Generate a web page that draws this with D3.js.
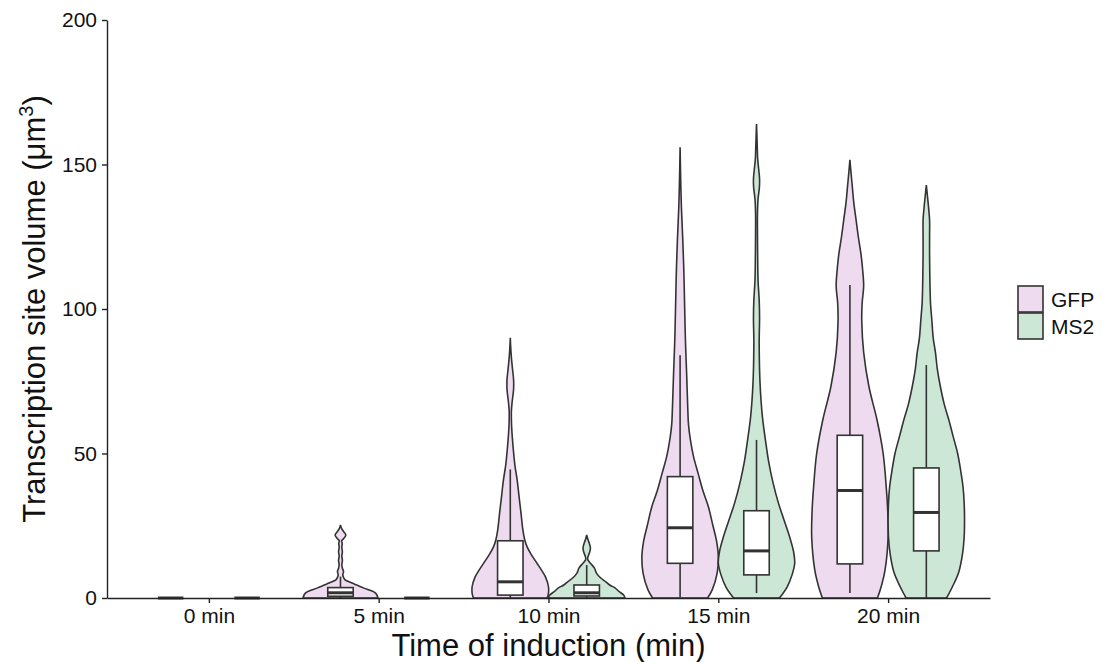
<!DOCTYPE html>
<html>
<head>
<meta charset="utf-8">
<script src="https://cdn.jsdelivr.net/npm/d3@7"></script>
<style>
  body { margin: 0; background: #fff; }
  text { font-family: "Liberation Sans", Arial, sans-serif; }
</style>
</head>
<body>
<div id="chart"></div>
<script>
const W = 1108, H = 662;

const groups = ["0 min", "5 min", "10 min", "15 min", "20 min"];
const series = ["GFP", "MS2"];
const fills = ["#eedbf0", "#cde7d7"];
const yTicks = [0, 50, 100, 150, 200];

// violin outlines: [value, relative half-width]
const gfp5 = [[0,0.98],[1.7,0.92],[3.5,0.6],[5.2,0.3],[6.3,0.12],[6.9,0.087],[8,0.06],[9.1,0.08],[10.3,0.05],[11.5,0.035],[13,0.05],[14.5,0.035],[16,0.05],[17.5,0.035],[19,0.045],[19.8,0.03],[20.5,0.08],[21.8,0.14],[23,0.08],[24.3,0.02],[25.3,0]];
const gfp10 = [[0,0.96],[1,0.99],[3.8,1.0],[7.3,0.92],[10,0.8],[12,0.7],[15,0.55],[17.7,0.44],[20,0.38],[23.5,0.33],[29.4,0.28],[35,0.23],[40.8,0.18],[46,0.12],[52,0.075],[57,0.045],[61,0.03],[65,0.03],[68,0.05],[72,0.085],[75.4,0.087],[79,0.06],[83,0.03],[87,0.01],[90,0]];
const gfp15 = [[0,0.72],[2.8,0.84],[8.6,0.97],[14.3,1.0],[20,0.95],[25,0.86],[31.6,0.74],[37,0.6],[43.2,0.47],[49,0.35],[54.7,0.27],[60,0.22],[66,0.2],[78,0.17],[89,0.14],[100,0.12],[112,0.1],[124,0.07],[135,0.035],[145,0.015],[156,0]];
const gfp20 = [[0,0.72],[4,0.82],[9.7,0.92],[21,1.0],[30,0.99],[38.5,0.95],[50,0.87],[61.6,0.71],[73,0.5],[85,0.36],[96,0.31],[102,0.32],[108,0.36],[114,0.33],[119,0.29],[125,0.22],[131,0.16],[137,0.1],[142,0.065],[147,0.03],[151.6,0]];
const ms210 = [[0,1.0],[1,0.97],[2.2,0.85],[3.5,0.74],[4.5,0.6],[5.6,0.5],[7,0.36],[8.5,0.26],[10.4,0.2],[12,0.1],[13.2,0.03],[13.8,0.026],[14.5,0.04],[16,0.08],[17.3,0.097],[18.8,0.07],[20.3,0.03],[21.8,0]];
const ms215 = [[0,0.6],[3.8,0.8],[8,0.93],[12,1.0],[16,0.97],[21,0.87],[27,0.72],[33,0.57],[40,0.43],[47,0.32],[55,0.23],[62,0.16],[68,0.12],[75,0.09],[82,0.075],[89,0.07],[97,0.08],[103,0.07],[110,0.04],[118,0.03],[126,0.025],[133,0.025],[138,0.04],[142,0.075],[145,0.08],[148,0.06],[152,0.03],[156,0.02],[160,0.01],[164,0]];
const ms220 = [[0,0.53],[3.8,0.68],[9,0.85],[15.5,0.95],[21,0.99],[27,1.0],[33,0.99],[38.5,0.96],[44,0.9],[50,0.82],[56,0.7],[61.6,0.59],[67,0.47],[73,0.37],[79,0.29],[84.8,0.24],[90,0.18],[96,0.145],[102,0.11],[107.6,0.097],[113,0.09],[119,0.085],[125,0.085],[130.8,0.085],[135,0.06],[139,0.03],[142.9,0]];

// null = no violin (all zeros)
const violinsGFP = [null, gfp5, gfp10, gfp15, gfp20];
const violinsMS2 = [null, null, ms210, ms215, ms220];

// box stats: [lower whisker, q1, median, q3, upper whisker]
const boxGFP = [[0,0,0,0,0],[0,0.6,1.8,3.6,7.4],[0,1,5.6,19.8,44.5],[0.3,12,24.3,42,84],[1.7,11.8,37.2,56.3,108.3]];
const boxMS2 = [[0,0,0,0,0],[0,0,0,0,0],[0,0.7,1.8,4.5,11.4],[1.7,8,16.3,30.2,54.7],[0,16.3,29.6,45,80.6]];

const margin = {left: 107, right: 118, top: 20, bottom: 64};

let svg = d3.select("#chart").append("svg")
  .attr("width", W).attr("height", H)

let x = d3.scalePoint()
  .domain(groups)
  .range([margin.left, W - margin.right])
  .padding(0.6)

let y = d3.scaleLinear()
  .domain([0, 200])
  .range([H - margin.bottom, margin.top])

let step = x.step()
// dodge width 0.9, two series
let offset = d3.scaleOrdinal().domain(series).range([-0.225 * step, 0.225 * step])
let halfW = d3.scaleLinear().domain([0, 1]).range([0, 0.225 * step])
let boxHalf = 0.075 * step

function drawViolin(profile, cx, fill) {
  if (!profile) return;
  let area = d3.area()
    .y(d => y(d[0]))
    .x0(d => cx - halfW(d[1]))
    .x1(d => cx + halfW(d[1]))
    .curve(d3.curveCatmullRom.alpha(0.5))
  svg.append("path")
    .datum(profile)
    .attr("d", area)
    .attr("fill", fill)
    .attr("stroke", "#333")
    .attr("stroke-width", 1.6)
}

function drawBox(b, cx) {
  let g = svg.append("g").attr("stroke", "#333")
  g.append("line")
    .attr("x1", cx).attr("x2", cx)
    .attr("y1", y(b[0])).attr("y2", y(b[1]))
    .attr("stroke-width", 1.6)
  g.append("line")
    .attr("x1", cx).attr("x2", cx)
    .attr("y1", y(b[3])).attr("y2", y(b[4]))
    .attr("stroke-width", 1.6)
  g.append("rect")
    .attr("x", cx - boxHalf).attr("width", boxHalf * 2)
    .attr("y", y(b[3])).attr("height", y(b[1]) - y(b[3]))
    .attr("fill", "#fff")
    .attr("stroke-width", 1.6)
  g.append("line")
    .attr("x1", cx - boxHalf).attr("x2", cx + boxHalf)
    .attr("y1", y(b[2])).attr("y2", y(b[2]))
    .attr("stroke-width", 3)
}

groups.forEach(function(grp, i){
  drawViolin(violinsGFP[i], x(grp) + offset("GFP"), fills[0])
  drawViolin(violinsMS2[i], x(grp) + offset("MS2"), fills[1])
})
groups.forEach(function(grp, i){
  drawBox(boxGFP[i], x(grp) + offset("GFP"))
  drawBox(boxMS2[i], x(grp) + offset("MS2"))
})

// axes
let yAxis = svg.append("g")
  .attr("transform", "translate(" + margin.left + ",0)")
  .call(d3.axisLeft(y).tickValues(yTicks).tickSize(5).tickSizeOuter(0).tickPadding(5))
let xAxis = svg.append("g")
  .attr("transform", "translate(0," + (H - margin.bottom) + ")")
  .call(d3.axisBottom(x).tickSize(5).tickSizeOuter(0).tickPadding(5))

svg.selectAll(".domain, .tick line").attr("stroke", "#222").attr("stroke-width", 1.4)
svg.selectAll(".tick text")
  .attr("fill", "#111")
  .style("font-size", "21px")
  .style("font-family", "'Liberation Sans', Arial, sans-serif")

svg.append("text")
  .attr("x", (margin.left + W - margin.right) / 2)
  .attr("y", 656)
  .attr("text-anchor", "middle")
  .attr("fill", "#111")
  .style("font-size", "31px")
  .text("Time of induction (min)")

let yt = svg.append("text")
  .attr("transform", "translate(45," + ((margin.top + H - margin.bottom) / 2) + ") rotate(-90)")
  .attr("text-anchor", "middle")
  .attr("fill", "#111")
  .style("font-size", "31px")
yt.append("tspan").text("Transcription site volume (μm")
yt.append("tspan").attr("dy", -12).style("font-size", "20px").text("3")
yt.append("tspan").attr("dy", 12).text(")")

// legend
let legend = svg.append("g").attr("transform", "translate(1018,286)")
series.forEach(function(s, i){
  legend.append("rect")
    .attr("x", 0).attr("y", i * 27)
    .attr("width", 25).attr("height", 26)
    .attr("fill", fills[i])
    .attr("stroke", "#333")
    .attr("stroke-width", 1.6)
  legend.append("text")
    .attr("x", 33).attr("y", i * 27 + 21)
    .attr("fill", "#111")
    .style("font-size", "21px")
    .text(s)
})
</script>
</body>
</html>
